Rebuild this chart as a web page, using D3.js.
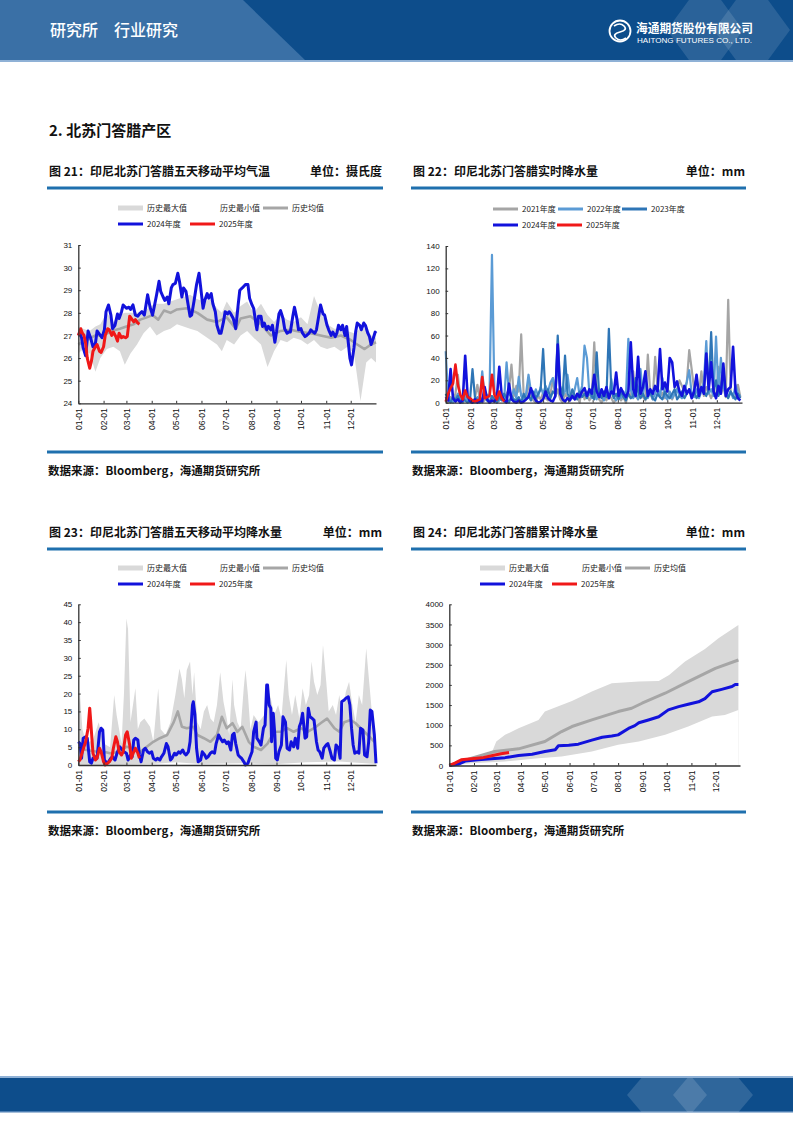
<!DOCTYPE html>
<html><head><meta charset="utf-8">
<script src="https://cdn.jsdelivr.net/npm/d3@7"></script>
<style>body{margin:0;background:#fff;}svg{display:block;}</style>
</head><body>
<svg id="page" width="793" height="1122"></svg>
<script>
// ---------------- DATA ----------------
const months = ["01-01","02-01","03-01","04-01","05-01","06-01","07-01","08-01","09-01","10-01","11-01","12-01"];

// Fig 21: temperature (pairs: [day of year, value])
const c21Ticks = [24,25,26,27,28,29,30,31];
const c21BandDays = [0,6,14,21,27,35,43,51,57,64,72,80,88,96,105,113,121,129,137,146,154,162,170,176,182,191,199,207,215,224,232,240,248,256,264,273,281,289,297,305,314,322,330,338,346,353,359,365];
const c21Max = [27.4,27.3,27.2,27.4,27.5,28.0,27.6,27.9,28.0,28.0,28.0,28.0,28.3,28.4,28.4,28.5,28.6,28.7,28.8,28.6,28.5,28.6,28.2,28.0,28.5,28.0,28.3,28.5,28.0,28.4,27.9,27.6,27.9,27.7,27.6,27.8,27.5,28.75,28.0,27.5,27.3,27.3,27.2,27.1,27.3,27.3,27.0,26.9];
const c21Min = [26.2,26.4,26.2,25.4,26.0,26.4,26.5,26.3,25.7,26.2,26.6,27.1,27.4,27.0,27.2,27.3,27.5,27.4,27.3,27.2,27.0,26.8,26.6,26.3,26.8,26.6,27.0,27.2,26.9,26.6,25.6,26.3,26.8,26.7,26.9,26.8,26.6,26.8,26.5,26.4,26.5,26.3,26.5,26.2,24.1,25.8,26.0,25.8];
const c21Mean = [[0,26.6],[10,26.8],[21,27.0],[31,27.0],[41,27.2],[51,27.3],[59,27.4],[68,27.5],[76,27.7],[84,27.8],[91,27.9],[98,27.7],[105,28.1],[113,28.0],[121,28.15],[133,28.2],[146,28.0],[158,27.7],[170,27.6],[182,27.8],[193,27.3],[199,27.75],[211,27.85],[224,27.5],[236,27.0],[248,27.2],[260,27.25],[273,27.15],[285,27.1],[297,27.0],[310,26.9],[322,27.0],[334,26.8],[342,26.6],[351,26.4],[359,26.6],[365,26.7]];
const c21Y2024 = [[0,27.0],[2,27.1],[4,26.9],[6,26.45],[9,26.1],[12,27.2],[15,26.9],[18,26.5],[21,26.65],[23,27.2],[27,27.0],[29,26.9],[32,27.25],[34,28.05],[37,28.35],[40,27.9],[42,27.3],[45,27.45],[48,27.95],[50,27.75],[53,28.05],[55,28.35],[59,28.2],[62,28.25],[64,28.15],[67,28.35],[70,27.9],[73,27.85],[75,27.95],[78,28.05],[81,27.9],[83,28.35],[85,28.8],[88,28.25],[91,27.9],[93,28.25],[96,28.8],[99,29.4],[101,28.95],[104,28.7],[106,28.55],[109,28.7],[111,28.4],[114,29.1],[116,29.25],[119,29.3],[122,29.75],[124,29.4],[127,28.7],[129,29.1],[132,28.95],[134,28.5],[137,27.85],[139,27.9],[142,28.55],[145,29.25],[148,29.75],[150,29.15],[153,28.2],[155,28.55],[158,28.85],[160,28.65],[163,28.85],[165,28.4],[168,28.05],[170,27.45],[173,27.1],[175,27.1],[178,27.6],[180,28.05],[183,27.95],[185,28.05],[187,27.95],[190,27.75],[193,27.3],[196,28.35],[198,29.0],[201,29.1],[205,29.25],[208,29.25],[210,28.65],[213,28.35],[215,28.2],[218,27.45],[219,27.25],[221,27.85],[224,27.85],[226,27.4],[228,27.55],[231,27.25],[233,27.4],[236,27.25],[238,27.45],[241,26.7],[243,27.15],[246,27.95],[248,28.1],[251,27.75],[253,27.3],[256,27.1],[258,27.15],[260,27.15],[263,27.85],[265,28.25],[268,27.75],[270,27.25],[273,27.3],[275,27.1],[278,26.95],[280,27.0],[283,27.1],[285,27.25],[288,27.15],[290,27.1],[292,27.25],[295,27.9],[297,28.35],[300,27.95],[302,27.9],[305,27.45],[307,27.25],[310,27.0],[312,27.15],[315,26.95],[317,27.1],[319,27.45],[322,27.25],[324,27.45],[327,27.0],[329,27.4],[331,26.7],[333,26.0],[335,25.7],[338,26.45],[340,27.15],[342,27.55],[345,27.45],[347,27.25],[350,27.55],[352,27.45],[355,27.1],[357,26.95],[359,26.6],[361,26.8],[364,27.15],[365,27.1]];
const c21Y2025 = [[0,27.0],[3,27.3],[5,27.1],[7,27.0],[9,26.65],[11,26.0],[14,25.55],[16,25.85],[18,26.3],[21,26.5],[23,26.6],[26,26.3],[28,26.25],[31,26.5],[33,27.0],[36,27.3],[38,27.25],[41,27.0],[43,27.15],[46,26.95],[48,26.75],[50,27.1],[53,26.9],[55,26.95],[58,26.9],[60,26.95],[63,27.85],[65,27.75],[68,27.6],[70,27.7],[73,27.55],[75,27.5]];

// Fig 22: daily precipitation, one value every 3 days
const c22Ticks = [0,20,40,60,80,100,120,140];
const c22Step = 3;
const c22Y2021 = [2,0,5,3,8,25,4,0,3,6, 2,0,4,16,3,0,2,7,0,3, 5,0,2,4,1,8,12,34,6,15, 10,61,8,3,18,5,2,0,6,3, 9,4,2,7,22,5,12,3,0,8, 4,2,10,3,6,0,14,3,8,2, 6,54,10,3,0,5,2,8,4,0, 3,7,2,5,0,9,4,28,6,3, 10,5,2,43,8,3,41,12,5,9, 4,14,6,3,8,12,20,15,10,18, 47,30,12,22,8,28,6,14,9,4, 10,6,32,8,14,5,92,10,6,4, 16,5];
const c22Y2022 = [46,5,2,0,4,8,3,0,6,2, 4,1,0,5,3,28,6,2,8,132, 10,4,2,6,3,36,8,5,12,4, 23,6,3,8,25,10,4,12,6,14, 8,15,10,18,22,9,35,14,6,10, 25,8,4,12,22,6,15,51,40,8, 4,10,3,12,6,2,8,4,21,5, 2,8,4,10,6,57,12,4,8,3, 30,6,23,4,10,3,8,14,5,22, 6,3,10,4,8,12,6,4,10,19, 29,8,5,12,4,10,18,55,8,12, 6,59,10,40,14,8,5,10,4,16, 8,6];
const c22Y2023 = [8,3,0,5,2,6,0,4,2,0, 3,30,5,2,0,4,8,2,0,6, 3,0,5,2,8,4,0,6,3,2, 5,0,8,3,6,2,10,4,8,12, 48,6,12,4,10,8,60,15,6,42, 8,4,12,6,3,10,5,8,4,12, 6,3,45,8,4,10,5,66,12,4, 8,3,10,5,2,8,4,6,22,10, 4,8,3,6,10,4,2,8,5,3, 10,6,4,8,12,3,6,10,4,8, 12,6,10,4,8,14,10,6,12,63, 10,20,6,12,30,8,4,10,6,3, 8,4];
const c22Y2024 = [5,2,30,4,1,3,0,2,42,6, 1,0,3,0,2,1,14,3,0,2, 1,4,32,6,2,0,17,3,1,0, 2,0,1,3,5,13,6,2,0,1, 3,10,4,2,1,6,52,8,3,1, 4,2,6,3,8,5,10,13,6,12, 8,25,10,5,12,6,14,4,10,8, 27,6,13,8,5,10,54,12,6,41, 8,14,28,6,12,8,15,10,48,12, 18,10,40,36,14,19,10,6,15,8, 12,4,10,25,6,14,8,44,12,36, 10,4,15,8,35,6,12,14,50,10, 4,2];
const c22Y2025 = [1,8,13,17,34,16,7,3,11,5,4,2,1,2,3,23,4,5,6,25,7,3,10,4,1];

// Fig 23: 5-day moving average precipitation (pairs)
const c23Ticks = [0,5,10,15,20,25,30,35,40,45];
const c23Max = [[0,15],[2,20],[5,10],[10,6],[18,7],[25,12],[31,6],[39,5],[44,19.6],[47,14],[53,6],[56,20],[59,41],[61,38],[64,12],[70,21.5],[73,10],[76,12],[81,13],[88,10.7],[92,6.5],[98,21.5],[101,10],[107,8.4],[113,12],[119,19.6],[124,27],[127,24],[130,18.7],[133,26.6],[137,29],[140,19.6],[142,26],[146,12],[150,10],[154,15],[158,16.8],[162,13],[166,12],[170,16.8],[174,26],[178,17.7],[182,13],[185,8.4],[189,24],[191,16.8],[195,12],[199,10],[203,22],[205,26.6],[208,19.6],[211,10],[215,14],[221,12],[228,14],[232,21.5],[236,18.7],[240,14],[245,16.8],[249,13],[253,24],[255,29.4],[258,19.6],[262,14],[266,19.6],[271,13],[275,21.5],[279,16.8],[283,19.6],[286,29],[289,23.3],[293,19.6],[297,22.4],[300,33.6],[304,23.3],[307,15],[312,16.8],[316,14],[320,19.6],[324,14],[328,20.5],[332,23.3],[336,16.8],[340,12],[344,19.6],[348,16.8],[353,32.7],[357,22.4],[361,12],[365,4.7]];
const c23Min = [[0,0],[40,0],[90,0.3],[120,0.8],[150,0.3],[200,0.5],[240,0.2],[280,0.8],[320,1.0],[365,0.3]];
const c23Mean = [[0,4.7],[10,4.2],[23,3.7],[31,3.7],[39,3.3],[51,3.7],[59,5.1],[68,4.7],[76,3.7],[84,5.1],[92,6.5],[100,7.5],[109,8.4],[117,12],[122,15],[127,10.7],[133,10.3],[141,10.7],[146,8.4],[154,7.5],[162,6.5],[170,8.4],[176,13.5],[182,10.3],[189,11.7],[195,9.3],[201,10.7],[209,6.5],[215,5.1],[224,4.2],[232,6],[240,9.3],[248,9.3],[256,10.3],[264,9.3],[273,10.3],[281,9.3],[289,10.3],[297,11.7],[305,13],[314,10.3],[320,9.3],[326,12],[334,12.6],[340,11.7],[346,10.3],[355,8.4],[363,6.5]];
const c23Y2024 = [[0,6.5],[2,6],[4,1.9],[6,7.5],[9,7.9],[11,7.5],[14,0.9],[16,0.5],[18,1.9],[21,2.3],[23,1.9],[26,9.3],[28,10.3],[30,9.8],[32,1.4],[35,0.5],[37,0.9],[40,1.9],[42,2.3],[45,1.4],[48,3.7],[51,5.1],[54,4.2],[56,3.7],[59,3.3],[61,1.4],[64,2.8],[66,2.3],[68,7],[70,7.5],[73,7],[75,2.8],[77,0.9],[80,4.2],[82,4.7],[85,3.7],[87,3.3],[90,3.7],[92,1.9],[95,1.4],[97,1.9],[100,1.4],[102,2.3],[105,3.3],[108,6],[110,5.1],[113,1.4],[115,1.9],[118,3.3],[120,2.8],[123,3.7],[125,3.3],[128,4.2],[130,3.3],[132,2.8],[135,3.7],[137,6.5],[140,16.8],[141,17.7],[143,14],[145,4.7],[147,0.9],[150,1.4],[152,3.7],[155,2.8],[157,1.9],[159,2.3],[162,3.3],[164,3.7],[167,3.3],[169,6],[172,8.4],[174,7.5],[177,6.5],[179,7],[182,6],[184,6.5],[187,4.2],[189,8.4],[191,8.9],[193,6],[196,2.8],[198,2.3],[200,1.9],[203,0.9],[205,0],[208,0.5],[210,1.9],[213,3.7],[215,9.3],[218,12],[219,7.5],[222,6.5],[224,5.6],[227,10.3],[229,11.2],[231,22.4],[232,22.4],[234,16.8],[236,15.9],[237,6.5],[239,14.5],[241,8.4],[242,1.9],[244,1.4],[246,3.7],[249,5.6],[251,13.5],[254,12],[256,4.7],[259,4.2],[261,6.5],[264,5.1],[266,7.5],[269,4.7],[271,10.7],[273,12],[275,14.5],[278,7.5],[280,7.9],[282,15.9],[284,13.5],[287,13],[289,12.6],[292,6.5],[294,4.2],[296,3.7],[299,1.9],[301,4.7],[304,5.6],[306,6],[309,3.7],[311,1.9],[314,1.4],[316,5.6],[319,4.7],[321,1.9],[323,17.7],[326,18.2],[328,18.7],[331,19.1],[333,16.8],[335,10.3],[337,5.6],[339,3.3],[342,3.7],[344,3.3],[346,10.3],[349,9.8],[351,2.8],[354,2.3],[356,6.5],[358,15.4],[360,15],[363,8.4],[365,0.5]];
const c23Y2025 = [[0,0.9],[2,1.4],[5,3.7],[7,5.1],[9,6.5],[12,10.3],[14,15.9],[15,13],[17,6.5],[18,3.3],[21,1.4],[23,1.9],[26,4.7],[28,3.7],[31,0.9],[33,0],[36,0.5],[38,0.9],[41,1.9],[43,4.7],[46,7.9],[48,6.5],[50,3.7],[53,2.8],[55,3.7],[58,8.4],[60,9.3],[63,5.6],[65,1.9],[68,3.7],[70,4.7],[73,3.3],[75,1.9]];

// Fig 24: cumulative precipitation (pairs)
const c24Ticks = [0,500,1000,1500,2000,2500,3000,3500,4000];
const c24Max = [[0,0],[28,198],[53,306],[59,595],[70,760],[87,925],[112,1132],[120,1338],[141,1503],[154,1603],[179,1834],[204,2040],[238,2082],[263,2099],[276,2247],[296,2578],[321,2893],[338,3157],[363,3488]];
const c24Min = [[0,0],[28,58],[70,99],[112,182],[141,223],[179,347],[212,512],[238,595],[271,760],[300,967],[330,1214],[346,1256],[363,1380]];
const c24Mean = [[0,0],[14,90],[28,180],[57,347],[87,413],[120,595],[141,843],[154,967],[179,1132],[212,1338],[229,1421],[242,1545],[271,1793],[300,2082],[334,2412],[363,2618]];
const c24Y2024 = [[0,0],[11,30],[20,110],[36,140],[53,170],[70,195],[87,248],[104,281],[120,347],[133,390],[137,490],[150,505],[162,530],[179,630],[192,700],[204,730],[212,760],[225,920],[233,990],[238,1060],[250,1130],[263,1210],[275,1380],[288,1460],[300,1520],[313,1580],[321,1660],[330,1830],[342,1890],[355,1960],[359,2010],[363,2010]];
const c24Y2025 = [[0,0],[7,58],[15,140],[28,170],[41,190],[53,240],[65,290],[75,320]];

// ---------------- STYLE ----------------
const CJK = "'Noto Sans CJK SC','Noto Sans',sans-serif";
const NUM = "'Liberation Sans',Arial,sans-serif";
const COL = {band:"#d9d9d9", mean:"#a6a6a6", y2024:"#1212dc", y2025:"#f01818",
             y2021:"#a5a5a5", y2022:"#5b9bd5", y2023:"#2e75b6", rule:"#1f70ae",
             dark:"#0d4d8b", light:"#3a70a6"};

const svg = d3.select("#page");
const base = new Date(2023,0,1);
const dd = d => d3.timeDay.offset(base, d);
const monthDates = d3.timeMonth.range(base, dd(365));

// ---------------- HEADER / FOOTER ----------------
svg.append("rect").attr("x",0).attr("y",0).attr("width",793).attr("height",60).attr("fill",COL.dark);
svg.append("polygon").attr("points","0,0 243,0 305,60 0,60").attr("fill",COL.light);
svg.append("rect").attr("x",0).attr("y",60).attr("width",793).attr("height",2).attr("fill","#8fb1d6");
const defs = svg.append("defs");
defs.append("clipPath").attr("id","hclip").append("rect").attr("x",0).attr("y",0).attr("width",793).attr("height",60);
defs.append("clipPath").attr("id","fclip").append("rect").attr("x",0).attr("y",1078).attr("width",793).attr("height",34);
const hd = svg.append("g").attr("clip-path","url(#hclip)");
[[705,30],[752,30]].forEach(([cx,cy])=>{
  hd.append("polygon").attr("points",`${cx-38},${cy} ${cx},${cy-52} ${cx+38},${cy} ${cx},${cy+52}`).attr("fill","#ffffff").attr("opacity",0.12);
});
svg.append("text").attr("x",50).attr("y",36).attr("fill","#fff").attr("font-family",CJK).attr("font-size",16).attr("font-weight",500).text("研究所\u3000行业研究");
// logo
const lg = svg.append("g");
lg.append("circle").attr("cx",620).attr("cy",31).attr("r",10.5).attr("fill","none").attr("stroke","#fff").attr("stroke-width",1.8);
lg.append("path").attr("d","M614,26 q6,-4 10,0 q4,4 -4,6 q-8,2 -4,6 q4,4 10,0").attr("stroke","#fff").attr("stroke-width",1.7).attr("fill","none");
lg.append("text").attr("x",636).attr("y",33).attr("fill","#fff").attr("font-family",CJK).attr("font-weight",700).attr("font-size",12).attr("textLength",117).attr("lengthAdjust","spacingAndGlyphs").text("海通期货股份有限公司");
lg.append("text").attr("x",637).attr("y",42.5).attr("fill","#fff").attr("font-family",NUM).attr("font-size",7).attr("textLength",115).attr("lengthAdjust","spacingAndGlyphs").text("HAITONG FUTURES CO., LTD.");

svg.append("rect").attr("x",0).attr("y",1076).attr("width",793).attr("height",2).attr("fill","#8fb1d6");
svg.append("rect").attr("x",0).attr("y",1078).attr("width",793).attr("height",34).attr("fill",COL.dark);
svg.append("rect").attr("x",0).attr("y",1111).attr("width",793).attr("height",1.5).attr("fill","#4d7fb3");
const ft = svg.append("g").attr("clip-path","url(#fclip)");
[[667,1095],[713,1095]].forEach(([cx,cy])=>{
  ft.append("polygon").attr("points",`${cx-40},${cy} ${cx-18},${cy-26} ${cx+18},${cy-26} ${cx+40},${cy} ${cx+18},${cy+26} ${cx-18},${cy+26}`).attr("fill","#ffffff").attr("opacity",0.14);
});

// section title
svg.append("text").attr("x",49).attr("y",136).attr("font-family",CJK).attr("font-weight",700).attr("font-size",15).attr("fill","#111").text("2. 北苏门答腊产区");

// ---------------- helpers ----------------
function titleBlock(xl, xr, ty, title, unit, ruleY){
  svg.append("text").attr("x",xl+2).attr("y",ty).attr("font-family",CJK).attr("font-weight",700).attr("font-size",12).attr("fill","#111").text(title);
  svg.append("text").attr("x",xr-1).attr("y",ty).attr("text-anchor","end").attr("font-family",CJK).attr("font-weight",700).attr("font-size",12).attr("fill","#111").text(unit);
  svg.append("rect").attr("x",xl).attr("y",ruleY-1.5).attr("width",xr-xl).attr("height",3).attr("fill",COL.rule);
}
function sourceBlock(xl, xr, ruleY){
  svg.append("rect").attr("x",xl).attr("y",ruleY-1.5).attr("width",xr-xl).attr("height",3).attr("fill",COL.rule);
  svg.append("text").attr("x",xl+1).attr("y",ruleY+23).attr("font-family",CJK).attr("font-weight",700).attr("font-size",11.5).attr("fill","#111").text("数据来源：Bloomberg，海通期货研究所");
}
function legend(items){
  items.forEach(it=>{
    svg.append("line").attr("x1",it.x).attr("x2",it.x+25).attr("y1",it.y).attr("y2",it.y).attr("stroke",it.c).attr("stroke-width",it.w||3);
    svg.append("text").attr("x",it.x+29).attr("y",it.y+3).attr("font-family",CJK).attr("font-size",8).attr("fill","#222").text(it.t);
  });
}
function makeScales(cfg){
  const x = d3.scaleTime().domain([base, dd(365)]).range([cfg.x0, cfg.x1]);
  const y = d3.scaleLinear().domain([cfg.yMin, cfg.yMax]).range([cfg.yBot, cfg.yTop]);
  return {x,y};
}
function drawAxes(x, y, ticks){
  const [x0] = x.range();
  const yb = y.range()[0];
  const gx = svg.append("g").attr("transform",`translate(0,${yb})`)
    .call(d3.axisBottom(x).tickValues(monthDates).tickFormat((d,i)=>months[i]).tickSizeInner(-2.5).tickSizeOuter(0));
  gx.selectAll("text").attr("transform","rotate(-90)").attr("x",-5).attr("y",0).attr("dy","0.33em").style("text-anchor","end").attr("font-size",8.5);
  const gy = svg.append("g").attr("transform",`translate(${x0},0)`)
    .call(d3.axisLeft(y).tickValues(ticks).tickFormat(d=>String(d)).tickSizeInner(-2.5).tickSizeOuter(0).tickPadding(6));
  [gx,gy].forEach(g=>{
    g.attr("font-family",NUM).attr("font-size",8);
    g.select(".domain").attr("stroke","#333").attr("stroke-width",1.3);
    g.selectAll(".tick line").attr("stroke","#333");
    g.selectAll("text").attr("fill","#111");
  });
}
function drawLine(x,y,pairs,color,w){
  svg.append("path").datum(pairs).attr("fill","none").attr("stroke",color).attr("stroke-width",w)
    .attr("stroke-linejoin","round").attr("stroke-linecap","butt")
    .attr("d", d3.line().x(d=>x(dd(d[0]))).y(d=>y(d[1])));
}
function drawArea(x,y,pairs,color,baseVal){
  svg.append("path").datum(pairs).attr("fill",color).attr("stroke","none")
    .attr("d", d3.area().x(d=>x(dd(d[0]))).y0(y(baseVal)).y1(d=>y(d[1])));
}
const zip = (days, vals) => days.map((d,i)=>[d, vals[i]]);
const stepPairs = (vals, step) => vals.map((v,i)=>[i*step, v]);

// ---------------- FIG 21 ----------------
titleBlock(47,383,176,"图 21：印尼北苏门答腊五天移动平均气温","单位：摄氏度",188);
legend([{x:118,y:208,c:COL.band,t:"历史最大值",w:5},{x:191,y:208,c:"#fff",t:"历史最小值",w:5},{x:263,y:208,c:COL.mean,t:"历史均值"},
        {x:118,y:224,c:COL.y2024,t:"2024年度"},{x:190,y:224,c:COL.y2025,t:"2025年度"}]);
{
  const {x,y} = makeScales({x0:78.3,x1:376,yTop:245,yBot:403.3,yMin:24,yMax:31});
  drawArea(x,y,zip(c21BandDays,c21Max),COL.band,24);
  drawArea(x,y,zip(c21BandDays,c21Min),"#fff",24);
  drawLine(x,y,c21Mean,COL.mean,2.6);
  drawLine(x,y,c21Y2024,COL.y2024,3);
  drawLine(x,y,c21Y2025,COL.y2025,3);
  drawAxes(x,y,c21Ticks);
}
sourceBlock(47,383,452);

// ---------------- FIG 22 ----------------
titleBlock(411,746,176,"图 22：印尼北苏门答腊实时降水量","单位：mm",188);
legend([{x:493,y:209,c:COL.y2021,t:"2021年度"},{x:558,y:209,c:COL.y2022,t:"2022年度"},{x:622,y:209,c:COL.y2023,t:"2023年度"},
        {x:493,y:225,c:COL.y2024,t:"2024年度"},{x:557,y:225,c:COL.y2025,t:"2025年度"}]);
{
  const {x,y} = makeScales({x0:445.7,x1:742,yTop:246,yBot:402.7,yMin:0,yMax:140});
  drawLine(x,y,stepPairs(c22Y2021,c22Step),COL.y2021,2.2);
  drawLine(x,y,stepPairs(c22Y2022,c22Step),COL.y2022,2.2);
  drawLine(x,y,stepPairs(c22Y2023,c22Step),COL.y2023,2.2);
  drawLine(x,y,stepPairs(c22Y2024,c22Step),COL.y2024,2.6);
  drawLine(x,y,stepPairs(c22Y2025,c22Step),COL.y2025,2.6);
  drawAxes(x,y,c22Ticks);
}
sourceBlock(411,746,452);

// ---------------- FIG 23 ----------------
titleBlock(47,383,537,"图 23：印尼北苏门答腊五天移动平均降水量","单位：mm",549);
legend([{x:118,y:568,c:COL.band,t:"历史最大值",w:5},{x:191,y:568,c:"#fff",t:"历史最小值",w:5},{x:263,y:568,c:COL.mean,t:"历史均值"},
        {x:118,y:584,c:COL.y2024,t:"2024年度"},{x:190,y:584,c:COL.y2025,t:"2025年度"}]);
{
  const {x,y} = makeScales({x0:78.3,x1:376,yTop:604.3,yBot:765,yMin:0,yMax:45});
  drawArea(x,y,c23Max,COL.band,0);
  drawArea(x,y,c23Min,"#fff",0);
  drawLine(x,y,c23Mean,COL.mean,2.6);
  drawLine(x,y,c23Y2024,COL.y2024,3);
  drawLine(x,y,c23Y2025,COL.y2025,3);
  drawAxes(x,y,c23Ticks);
}
sourceBlock(47,383,812);

// ---------------- FIG 24 ----------------
titleBlock(411,746,537,"图 24：印尼北苏门答腊累计降水量","单位：mm",549);
legend([{x:480,y:568,c:COL.band,t:"历史最大值",w:5},{x:553,y:568,c:"#fff",t:"历史最小值",w:5},{x:625,y:568,c:COL.mean,t:"历史均值"},
        {x:480,y:584,c:COL.y2024,t:"2024年度"},{x:552,y:584,c:COL.y2025,t:"2025年度"}]);
{
  const {x,y} = makeScales({x0:449.3,x1:740,yTop:604.3,yBot:765.5,yMin:0,yMax:4000});
  drawArea(x,y,c24Max,COL.band,0);
  drawArea(x,y,c24Min,"#fff",0);
  drawLine(x,y,c24Mean,COL.mean,3);
  drawLine(x,y,c24Y2024,COL.y2024,3);
  drawLine(x,y,c24Y2025,COL.y2025,3);
  drawAxes(x,y,c24Ticks);
}
sourceBlock(411,746,812);
</script>
</body></html>
